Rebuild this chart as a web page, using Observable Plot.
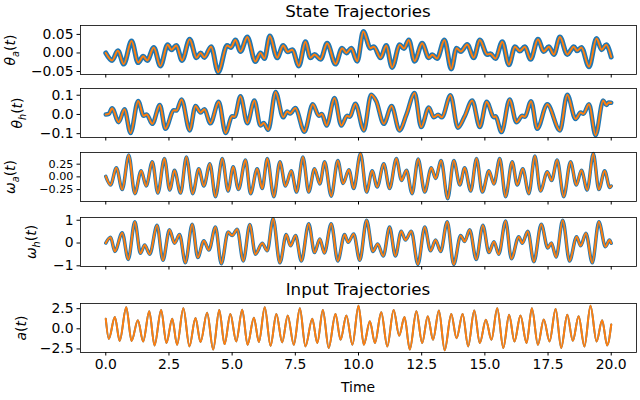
<!DOCTYPE html>
<html><head><meta charset="utf-8">
<script src="https://cdn.jsdelivr.net/npm/d3@7"></script>
<script src="https://cdn.jsdelivr.net/npm/@observablehq/plot@0.6"></script>
<style>
body{margin:0;background:#fff;font-family:"DejaVu Sans",sans-serif;}
#chart{position:relative;width:640px;height:400px;overflow:hidden;background:#fff;}
.p{position:absolute;left:0;}
.title{position:absolute;font-size:16.7px;left:80px;width:556px;text-align:center;line-height:1;}
.ylab{position:absolute;font-size:13.9px;white-space:nowrap;line-height:1;transform:translate(-50%,-50%) rotate(-90deg);}
.ylab sub{font-size:70%;}
.xlab{position:absolute;font-size:13.9px;left:80px;width:556px;text-align:center;line-height:1;}
</style></head><body><div id="chart"></div><script>
// Time ticks
const xTicks = [0, 2.5, 5, 7.5, 10, 12.5, 15, 17.5, 20];
// Panel titles
const titles = ["State Trajectories", "Input Trajectories"];
// [time, value] extrema
const thetaA = [[0,0],[0.25,-0.02],[0.48,0.006],[0.71,-0.03],[1.02,0.032],[1.28,-0.026],[1.48,-0.009],[1.64,-0.02],[1.9,0.015],[2.16,-0.035],[2.45,0.022],[2.6,0.009],[2.79,0.02],[3.02,-0.02],[3.32,0.037],[3.59,-0.013],[3.75,0],[3.9,-0.012],[4.17,0.017],[4.45,-0.052],[4.8,0.02],[4.95,0.015],[5.13,0.035],[5.33,0.004],[5.6,0.043],[5.92,-0.023],[6.12,0],[6.28,-0.015],[6.49,0.046],[6.78,-0.013],[7.02,0.02],[7.2,0.003],[7.38,0.009],[7.64,-0.035],[7.9,0.03],[8.1,-0.013],[8.26,-0.004],[8.5,-0.017],[8.76,0.026],[9.09,-0.03],[9.35,0.013],[9.52,0],[9.71,0.013],[9.95,-0.022],[10.19,0.058],[10.47,0.013],[10.61,0.017],[10.87,-0.013],[11.1,0.02],[11.33,-0.039],[11.63,0.022],[11.8,0.012],[11.99,0.035],[12.22,-0.022],[12.52,0.026],[12.78,-0.013],[12.92,-0.005],[13.11,-0.015],[13.4,0.035],[13.67,-0.043],[13.88,0.013],[14.05,0.004],[14.3,0.023],[14.56,-0.013],[14.8,0.035],[15.09,-0.004],[15.22,-0.002],[15.42,-0.015],[15.69,0.03],[15.95,-0.032],[16.19,0.017],[16.38,0.005],[16.58,0.017],[16.81,-0.017],[17.1,0.037],[17.33,0.004],[17.53,0.017],[17.73,-0.004],[17.97,0.043],[18.26,-0.004],[18.52,0.017],[18.65,0.006],[18.82,0.015],[19.12,-0.037],[19.42,0.039],[19.62,0.009],[19.8,0.022],[20,-0.011]];
const thetaH = [[0,0],[0.12,0.003],[0.25,0.032],[0.51,-0.04],[0.74,0.027],[0.98,-0.097],[1.28,0.07],[1.5,-0.007],[1.62,0],[1.84,-0.049],[2.14,0.049],[2.36,-0.075],[2.69,0.022],[2.8,0.02],[3.0,0.078],[3.32,-0.083],[3.55,0.044],[3.75,0.01],[3.9,0.027],[4.14,-0.046],[4.47,0.066],[4.74,-0.097],[5.0,-0.01],[5.1,-0.012],[5.33,0.095],[5.6,-0.046],[5.88,0.073],[6.12,-0.058],[6.25,-0.045],[6.43,-0.08],[6.72,0.117],[7.02,-0.015],[7.18,0.015],[7.3,0.005],[7.5,0.033],[7.86,-0.09],[8.19,0.053],[8.43,-0.007],[8.55,0.002],[8.74,-0.058],[9.05,0.086],[9.32,-0.058],[9.55,-0.007],[9.65,-0.012],[9.88,0.056],[10.21,-0.083],[10.5,0.103],[10.7,0.07],[11.0,-0.049],[11.31,0.044],[11.62,-0.083],[11.9,0],[12.22,0.112],[12.48,-0.066],[12.78,0.036],[12.98,-0.015],[13.15,-0.002],[13.3,-0.015],[13.64,0.1],[13.93,-0.069],[14.2,-0.01],[14.5,0.073],[14.8,-0.066],[15.07,0.066],[15.36,-0.015],[15.42,-0.01],[15.66,-0.092],[15.98,0.078],[16.25,-0.041],[16.48,-0.007],[16.58,-0.012],[16.83,0.069],[17.07,-0.075],[17.47,0.053],[17.97,-0.083],[18.26,0.103],[18.59,-0.024],[18.79,0.01],[18.9,0.003],[19.12,0.053],[19.38,-0.108],[19.68,0.073],[19.81,0.049],[19.9,0.062],[20,0.061]];
const omegaA = [[0,0.01],[0.19,-0.16],[0.42,0.18],[0.65,-0.25],[0.91,0.43],[1.15,-0.33],[1.4,0.12],[1.6,-0.18],[1.84,0.3],[2.06,-0.32],[2.32,0.36],[2.53,-0.26],[2.72,0.13],[2.96,-0.32],[3.19,0.39],[3.44,-0.33],[3.68,0.16],[3.88,-0.18],[4.12,0.26],[4.34,-0.39],[4.61,0.36],[4.84,-0.28],[5.04,0.2],[5.25,-0.25],[5.53,0.33],[5.73,-0.33],[5.99,0.16],[6.19,-0.23],[6.39,0.36],[6.65,-0.39],[6.89,0.3],[7.11,-0.18],[7.34,0.12],[7.55,-0.3],[7.8,0.39],[8.03,-0.3],[8.26,0.16],[8.47,-0.14],[8.66,0.3],[8.92,-0.38],[9.18,0.32],[9.39,-0.13],[9.62,0.14],[9.81,-0.23],[10.08,0.46],[10.32,-0.3],[10.54,0.12],[10.74,-0.2],[11.0,0.26],[11.23,-0.23],[11.5,0.36],[11.7,-0.07],[11.9,0.13],[12.12,-0.33],[12.36,0.35],[12.62,-0.3],[12.88,0.18],[13.05,-0.03],[13.27,0.32],[13.53,-0.43],[13.77,0.32],[14.01,-0.16],[14.2,0.18],[14.44,-0.28],[14.67,0.36],[14.9,-0.3],[15.16,0.12],[15.36,-0.14],[15.59,0.36],[15.82,-0.39],[16.08,0.3],[16.28,-0.16],[16.5,0.16],[16.74,-0.33],[16.98,0.41],[17.2,-0.28],[17.47,0.1],[17.64,-0.07],[17.86,0.33],[18.12,-0.39],[18.39,0.3],[18.62,-0.16],[18.82,0.13],[19.05,-0.26],[19.29,0.46],[19.51,-0.25],[19.74,0.12],[19.94,-0.21],[20,-0.18]];
const omegaH = [[0,0],[0.19,0.25],[0.36,-0.37],[0.65,0.45],[0.89,-0.72],[1.15,0.93],[1.37,-0.45],[1.54,-0.09],[1.74,-0.49],[2.03,0.78],[2.26,-0.76],[2.52,0.58],[2.72,-0.01],[2.92,0.37],[3.15,-0.87],[3.42,0.82],[3.64,-0.64],[3.88,0.1],[4.08,-0.31],[4.34,0.7],[4.57,-0.91],[4.84,0.48],[5.0,0.33],[5.2,0.6],[5.44,-0.79],[5.7,0.81],[5.92,-0.49],[6.19,-0.01],[6.39,-0.34],[6.62,1.07],[6.89,-0.87],[7.14,0.37],[7.31,-0.12],[7.51,0.33],[7.74,-0.79],[8.03,0.85],[8.26,-0.42],[8.47,0.18],[8.65,-0.44],[8.92,0.85],[9.18,-0.79],[9.45,0.37],[9.59,0.03],[9.81,0.4],[10.05,-0.76],[10.32,1.0],[10.57,-0.37],[10.76,-0.04],[10.98,-0.57],[11.23,0.7],[11.46,-0.57],[11.69,0.52],[11.86,0.13],[12.09,0.52],[12.35,-0.94],[12.62,0.7],[12.85,-0.34],[13.05,0.13],[13.25,-0.37],[13.51,0.93],[13.77,-0.94],[14.04,0.33],[14.2,0.07],[14.4,0.58],[14.66,-0.72],[14.92,0.78],[15.16,-0.42],[15.36,0.06],[15.55,-0.49],[15.82,0.97],[16.05,-0.69],[16.34,0.28],[16.48,-0.01],[16.7,0.52],[16.94,-0.82],[17.23,0.82],[17.49,-0.22],[17.63,0],[17.82,-0.61],[18.08,1.0],[18.35,-0.79],[18.63,0.28],[18.79,-0.12],[19.0,0.43],[19.25,-0.87],[19.51,0.93],[19.77,-0.16],[19.93,0.13],[20,-0.01]];
const inputA = [[0,1.25],[0.12,-1.25],[0.36,1.45],[0.55,-1.5],[0.81,2.66],[1.02,-1.5],[1.27,1.05],[1.48,-1.57],[1.72,2.18],[1.93,-2.06],[2.19,2.34],[2.4,-1.77],[2.63,1.25],[2.82,-1.98],[3.07,2.54],[3.31,-2.18],[3.55,1.33],[3.75,-1.65],[4.01,1.98],[4.25,-2.58],[4.49,2.34],[4.7,-1.9],[4.93,1.85],[5.16,-1.57],[5.4,2.38],[5.61,-1.98],[5.86,1.37],[6.06,-1.65],[6.29,2.66],[6.52,-2.1],[6.75,1.85],[6.98,-1.69],[7.2,1.65],[7.44,-1.98],[7.68,2.54],[7.9,-2.18],[8.17,1.25],[8.37,-1.77],[8.59,2.34],[8.82,-2.38],[9.09,1.85],[9.29,-1.37],[9.52,1.65],[9.76,-1.98],[10.0,2.86],[10.21,-1.98],[10.45,0.93],[10.65,-1.77],[10.9,2.06],[11.14,-2.18],[11.39,2.34],[11.61,-0.85],[11.82,1.45],[12.03,-2.58],[12.29,2.18],[12.52,-1.77],[12.74,1.57],[12.95,-1.37],[13.18,2.26],[13.41,-2.66],[13.67,1.85],[13.88,-1.17],[14.12,1.85],[14.34,-2.18],[14.58,2.26],[14.8,-1.77],[15.04,1.13],[15.26,-1.37],[15.49,2.54],[15.73,-2.38],[15.96,1.73],[16.17,-1.57],[16.41,1.65],[16.65,-1.77],[16.86,2.54],[17.1,-1.98],[17.33,1.17],[17.56,-1.57],[17.8,2.46],[18.02,-2.38],[18.26,1.73],[18.48,-1.49],[18.71,1.57],[18.94,-2.18],[19.18,2.86],[19.42,-1.57],[19.64,1.05],[19.84,-2.06],[20,0.52]];

const chart = document.getElementById("chart");
const FONT = "'DejaVu Sans', sans-serif";

function panel(pts, cfg) {
  const data = pts.map(([t, v]) => ({t, v}));
  const mt = 4, mb = cfg.showX ? 48 : 8, fh = 49;
  const yf = cfg.yFont || "13.9px";
  const svg = Plot.plot({
    width: 640, height: fh + mt + mb,
    marginLeft: 80, marginRight: 4, marginTop: mt, marginBottom: mb,
    style: {fontFamily: FONT, fontSize: "13.9px", background: "transparent", color: "black", overflow: "visible"},
    x: {domain: [-1, 21], ticks: xTicks, tickFormat: cfg.showX ? d3.format(".1f") : () => "", tickSize: 3.5, tickPadding: 3.5, label: null},
    y: {domain: cfg.domain, label: null, axis: null},
    marks: [
      Plot.axisY({ticks: cfg.ticks, tickFormat: d3.format(cfg.fmt), tickSize: 3.5, tickPadding: 3.5, label: null, fontSize: yf}),
      Plot.line(data, {x: "t", y: "v", stroke: "#1f77b4", strokeWidth: cfg.bw, curve: "monotone-x", strokeLinejoin: "round"}),
      Plot.line(data, {x: "t", y: "v", stroke: "#ff7f0e", strokeWidth: 2, curve: "monotone-x"}),
      Plot.frame({stroke: "black", strokeWidth: 0.8})
    ]
  });
  svg.classList.add("p");
  svg.style.top = (cfg.top - mt) + "px";
  chart.appendChild(svg);
  const lab = document.createElement("div");
  lab.className = "ylab";
  lab.innerHTML = cfg.label;
  lab.style.left = cfg.lx + "px";
  lab.style.top = (cfg.top + fh / 2) + "px";
  chart.appendChild(lab);
}

panel(thetaA, {top: 25, domain: [-0.058, 0.074], ticks: [-0.05, 0, 0.05], fmt: ".2f", bw: 5, lx: 12, label: "<i>θ</i><sub><i>a</i></sub>(<i>t</i>)"});
panel(thetaH, {top: 88, domain: [-0.12, 0.135], ticks: [-0.1, 0, 0.1], fmt: ".1f", bw: 4.5, lx: 19, label: "<i>θ</i><sub><i>h</i></sub>(<i>t</i>)"});
panel(omegaA, {top: 152, domain: [-0.485, 0.48], ticks: [-0.25, 0, 0.25], fmt: ".2f", bw: 3.5, lx: 12, yFont: "11.2px", label: "<i>ω</i><sub><i>a</i></sub>(<i>t</i>)"});
panel(omegaH, {top: 217, domain: [-1.03, 1.12], ticks: [-1, 0, 1], fmt: "d", bw: 3.5, lx: 33, label: "<i>ω</i><sub><i>h</i></sub>(<i>t</i>)"});
panel(inputA, {top: 303, domain: [-2.94, 3.14], ticks: [-2.5, 0, 2.5], fmt: ".1f", bw: 2, lx: 22, label: "<i>a</i>(<i>t</i>)", showX: true});

function addText(cls, txt, top) {
  const d = document.createElement("div");
  d.className = cls; d.textContent = txt; d.style.top = top + "px";
  chart.appendChild(d);
}
addText("title", titles[0], 3);
addText("title", titles[1], 281);
addText("xlab", "Time", 381);
</script></body></html>
